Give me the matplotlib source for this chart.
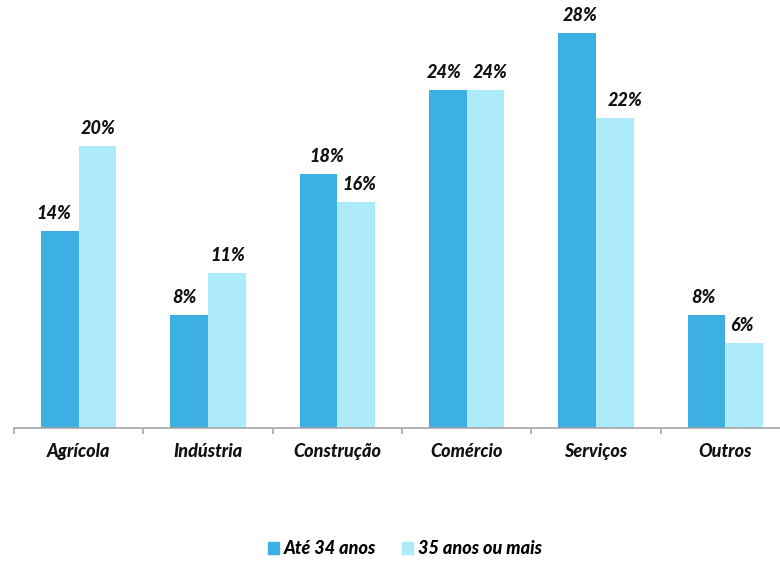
import numpy as np
import matplotlib.pyplot as plt
from matplotlib.patches import Patch

plt.rcParams['font.family'] = ['Lato', 'DejaVu Sans']

sectors = ["Agrícola", "Indústria", "Construção", "Comércio", "Serviços", "Outros"]
young = [14, 8, 18, 24, 28, 8]        # Até 34 anos
older = [20, 11, 16, 24, 22, 6]       # 35 anos ou mais
series_names = ["Até 34 anos", "35 anos ou mais"]

dark_blue = "#3CAFE3"
light_blue = "#ADEBFB"
axis_grey = "#A6A6A6"
text_weight = 900

# small horizontal nudges for the value labels (points)
young_dx = [-4.5, -3.2, 5.8, -2.9, 2.2, -2.0]
older_dx = [0.7, 0.7, 2.5, 3.6, 7.2, -1.4]

W, H = 780, 561
fig = plt.figure(figsize=(W / 100, H / 100), dpi=100)
ax = fig.add_axes([14 / W, (H - 428) / H, 776 / W, 420 / H])

x = np.arange(len(sectors))
bw = 0.29
b1 = ax.bar(x - bw / 2, young, bw, color=dark_blue, linewidth=0)
b2 = ax.bar(x + bw / 2, older, bw, color=light_blue, linewidth=0)

fs = 13
for bars, vals, dxs in ((b1, young, young_dx), (b2, older, older_dx)):
    for rect, v, dx in zip(bars, vals, dxs):
        ax.annotate(f"{v}%", (rect.get_x() + rect.get_width() / 2, v),
                    xytext=(dx, 6.5), textcoords="offset points",
                    ha="center", va="bottom", fontsize=fs,
                    fontweight=text_weight, fontstyle="italic", color="#111111")

ax.set_xlim(-0.5, 5.5)
ax.set_ylim(0, 29.8)

for side in ("top", "right", "left"):
    ax.spines[side].set_visible(False)
ax.spines["bottom"].set_color(axis_grey)
ax.spines["bottom"].set_linewidth(1.2)
ax.set_yticks([])

ax.set_xticks(x)
ax.set_xticklabels(sectors, fontsize=fs, fontweight=text_weight, fontstyle="italic",
                   color="#111111")
ax.tick_params(axis="x", which="major", length=0, pad=11)
ax.set_xticks(np.arange(-0.5, 6, 1), minor=True)
ax.tick_params(axis="x", which="minor", length=4.5, width=1.2, color=axis_grey)

handles = [Patch(color=dark_blue), Patch(color=light_blue)]
fig.legend(handles, series_names, loc="center", bbox_to_anchor=(405 / W, 1 - 549 / H),
           ncol=2, frameon=False, handlelength=0.6, handleheight=0.6,
           handletextpad=0.3, columnspacing=1.4,
           prop={"size": fs, "weight": text_weight, "style": "italic"})

fig.savefig("out.png", dpi=100)
